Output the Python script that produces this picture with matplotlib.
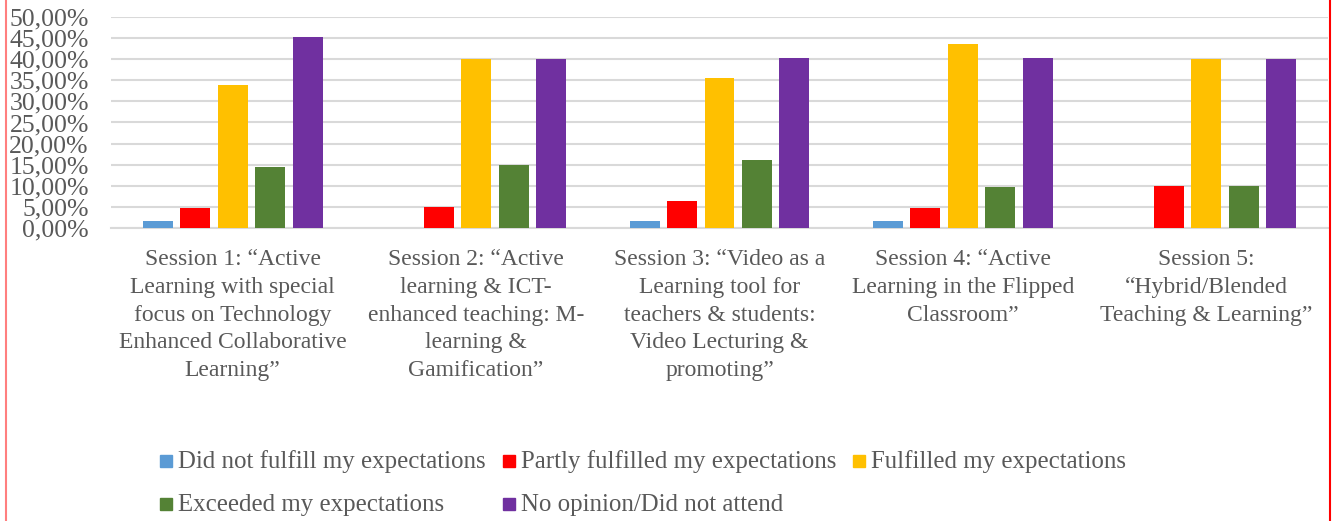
import matplotlib
matplotlib.use("Agg")
import matplotlib.pyplot as plt
import numpy as np
from matplotlib.patches import Rectangle
from matplotlib.ticker import FuncFormatter, MultipleLocator

categories = [
    "Session 1: \u201cActive\nLearning with special\nfocus on Technology\nEnhanced Collaborative\nLearning\u201d",
    "Session 2: \u201cActive\nlearning & ICT-\nenhanced teaching: M-\nlearning &\nGamification\u201d",
    "Session 3: \u201cVideo as a\nLearning tool for\nteachers & students:\nVideo Lecturing &\npromoting\u201d",
    "Session 4: \u201cActive\nLearning in the Flipped\nClassroom\u201d",
    "Session 5:\n\u201cHybrid/Blended\nTeaching & Learning\u201d",
]
series_names = [
    "Did not fulfill my expectations",
    "Partly fulfilled my expectations",
    "Fulfilled my expectations",
    "Exceeded my expectations",
    "No opinion/Did not attend",
]
did_not = [0.0161, 0.0, 0.0161, 0.0161, 0.0]
partly = [0.0484, 0.05, 0.0645, 0.0484, 0.10]
fulfilled = [0.3387, 0.40, 0.3548, 0.4355, 0.40]
exceeded = [0.1452, 0.15, 0.1613, 0.0968, 0.10]
no_opinion = [0.4516, 0.40, 0.4032, 0.4032, 0.40]
values = [did_not, partly, fulfilled, exceeded, no_opinion]
colors = ["#5B9BD5", "#FF0000", "#FFC000", "#548235", "#7030A0"]

W, H = 1334, 521
fig = plt.figure(figsize=(W / 100, H / 100), dpi=100)
txt = "#595959"
font = "Liberation Serif"

ax = fig.add_axes([111 / W, 1 - 228 / H, (1328 - 111) / W, (228 - 17) / H])
x = np.arange(len(categories))
slot = 0.154
bw = 0.123
for i, (vals, c) in enumerate(zip(values, colors)):
    ax.bar(x + (i - 2) * slot, vals, width=bw, color=c, zorder=3, label=series_names[i])

ax.set_xlim(-0.5, len(categories) - 0.5)
ax.set_ylim(0, 0.5)
ax.yaxis.set_major_locator(MultipleLocator(0.05))
ax.yaxis.set_major_formatter(FuncFormatter(lambda v, p: f"{v*100:.2f}%".replace(".", ",")))
ax.grid(axis="y", color="#D9D9D9", linewidth=1.5, zorder=0)
for s in ["top", "right", "left"]:
    ax.spines[s].set_visible(False)
ax.spines["bottom"].set_color("#D9D9D9")
ax.spines["bottom"].set_linewidth(1.5)
ax.tick_params(axis="both", length=0, colors=txt)
ax.set_xticks(x)
ax.set_xticklabels(categories, fontsize=17, family=font, color=txt, linespacing=1.43)
ax.tick_params(axis="x", pad=15)
for lab in ax.get_yticklabels():
    lab.set_fontsize(18.5)
    lab.set_family(font)
ax.tick_params(axis="y", pad=16)

# legend (manual layout, row-major like the reference)
leg_pos = [(160, 461), (503, 461), (853, 461), (160, 504), (503, 504)]
for (px, py), name, c in zip(leg_pos, series_names, colors):
    fig.patches.append(Rectangle((px / W, 1 - (py + 6) / H), 12 / W, 12 / H,
                                 transform=fig.transFigure, color=c, figure=fig))
    fig.text((px + 18) / W, 1 - (py + 1) / H, name, fontsize=17.9, family=font, color=txt,
             va="center", ha="left")

# outer border lines (left/right)
fig.add_artist(plt.Line2D([6 / W, 6 / W], [0, 1], color="#FF7F7F", linewidth=1.5))
fig.add_artist(plt.Line2D([1329.5 / W, 1329.5 / W], [0, 1], color="#FF0000", linewidth=1.5))

fig.savefig("out.png", dpi=100)
